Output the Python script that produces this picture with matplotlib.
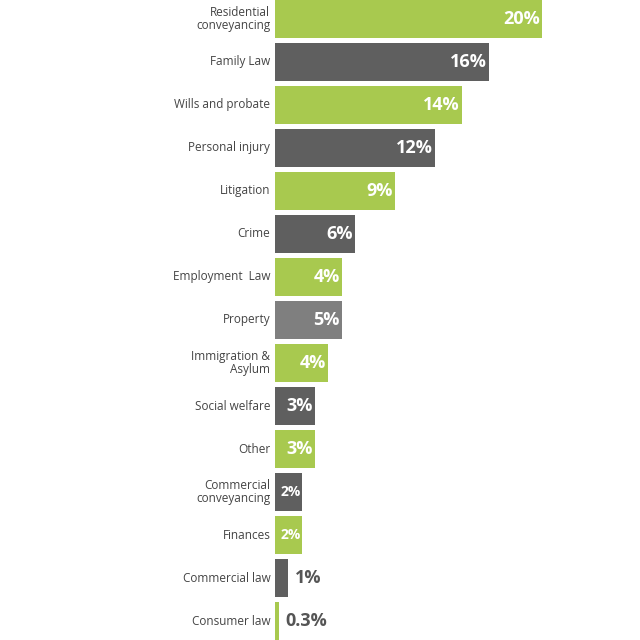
import matplotlib
matplotlib.use("Agg")
import matplotlib.pyplot as plt

categories = ["Residential\nconveyancing", "Family Law", "Wills and probate", "Personal injury",
              "Litigation", "Crime", "Employment  Law", "Property", "Immigration &\nAsylum",
              "Social welfare", "Other", "Commercial\nconveyancing", "Finances", "Commercial law",
              "Consumer law"]
values = [20, 16, 14, 12, 9, 6, 5, 5, 4, 3, 3, 2, 2, 1, 0.3]
value_labels = ["20%", "16%", "14%", "12%", "9%", "6%", "4%", "5%", "4%", "3%", "3%", "2%", "2%", "1%", "0.3%"]

green, dark, mid = "#a8c94f", "#5f5f5f", "#7f7f7f"
colors = [green if i % 2 == 0 else dark for i in range(len(values))]
colors[7] = mid

plt.rcParams["font.family"] = "Open Sans"
fig = plt.figure(figsize=(6.4, 6.4), dpi=100)
ax = fig.add_axes([275/640, 0, 365/640, 1])
ys = list(range(len(values)))
ax.barh(ys, values, height=0.88, color=colors)
ax.set_xlim(0, 365/13.35)
ax.set_ylim(14.44, -0.44)
ax.axis("off")
for y, v, lab, c in zip(ys, values, value_labels, categories):
    ax.text(-0.35, y, c, ha="right", va="center", fontsize=8.5, color="#444444", linespacing=0.95)
    if v >= 3:
        ax.text(v - 0.15, y, lab, ha="right", va="center", fontsize=13, fontweight="bold", color="white")
    elif v >= 2:
        ax.text(v - 0.05, y, lab, ha="right", va="center", fontsize=10, fontweight="bold", color="white")
    else:
        ax.text(v + 0.5, y, lab, ha="left", va="center", fontsize=13, fontweight="bold", color="#555555")
fig.savefig("out.png", dpi=100)
